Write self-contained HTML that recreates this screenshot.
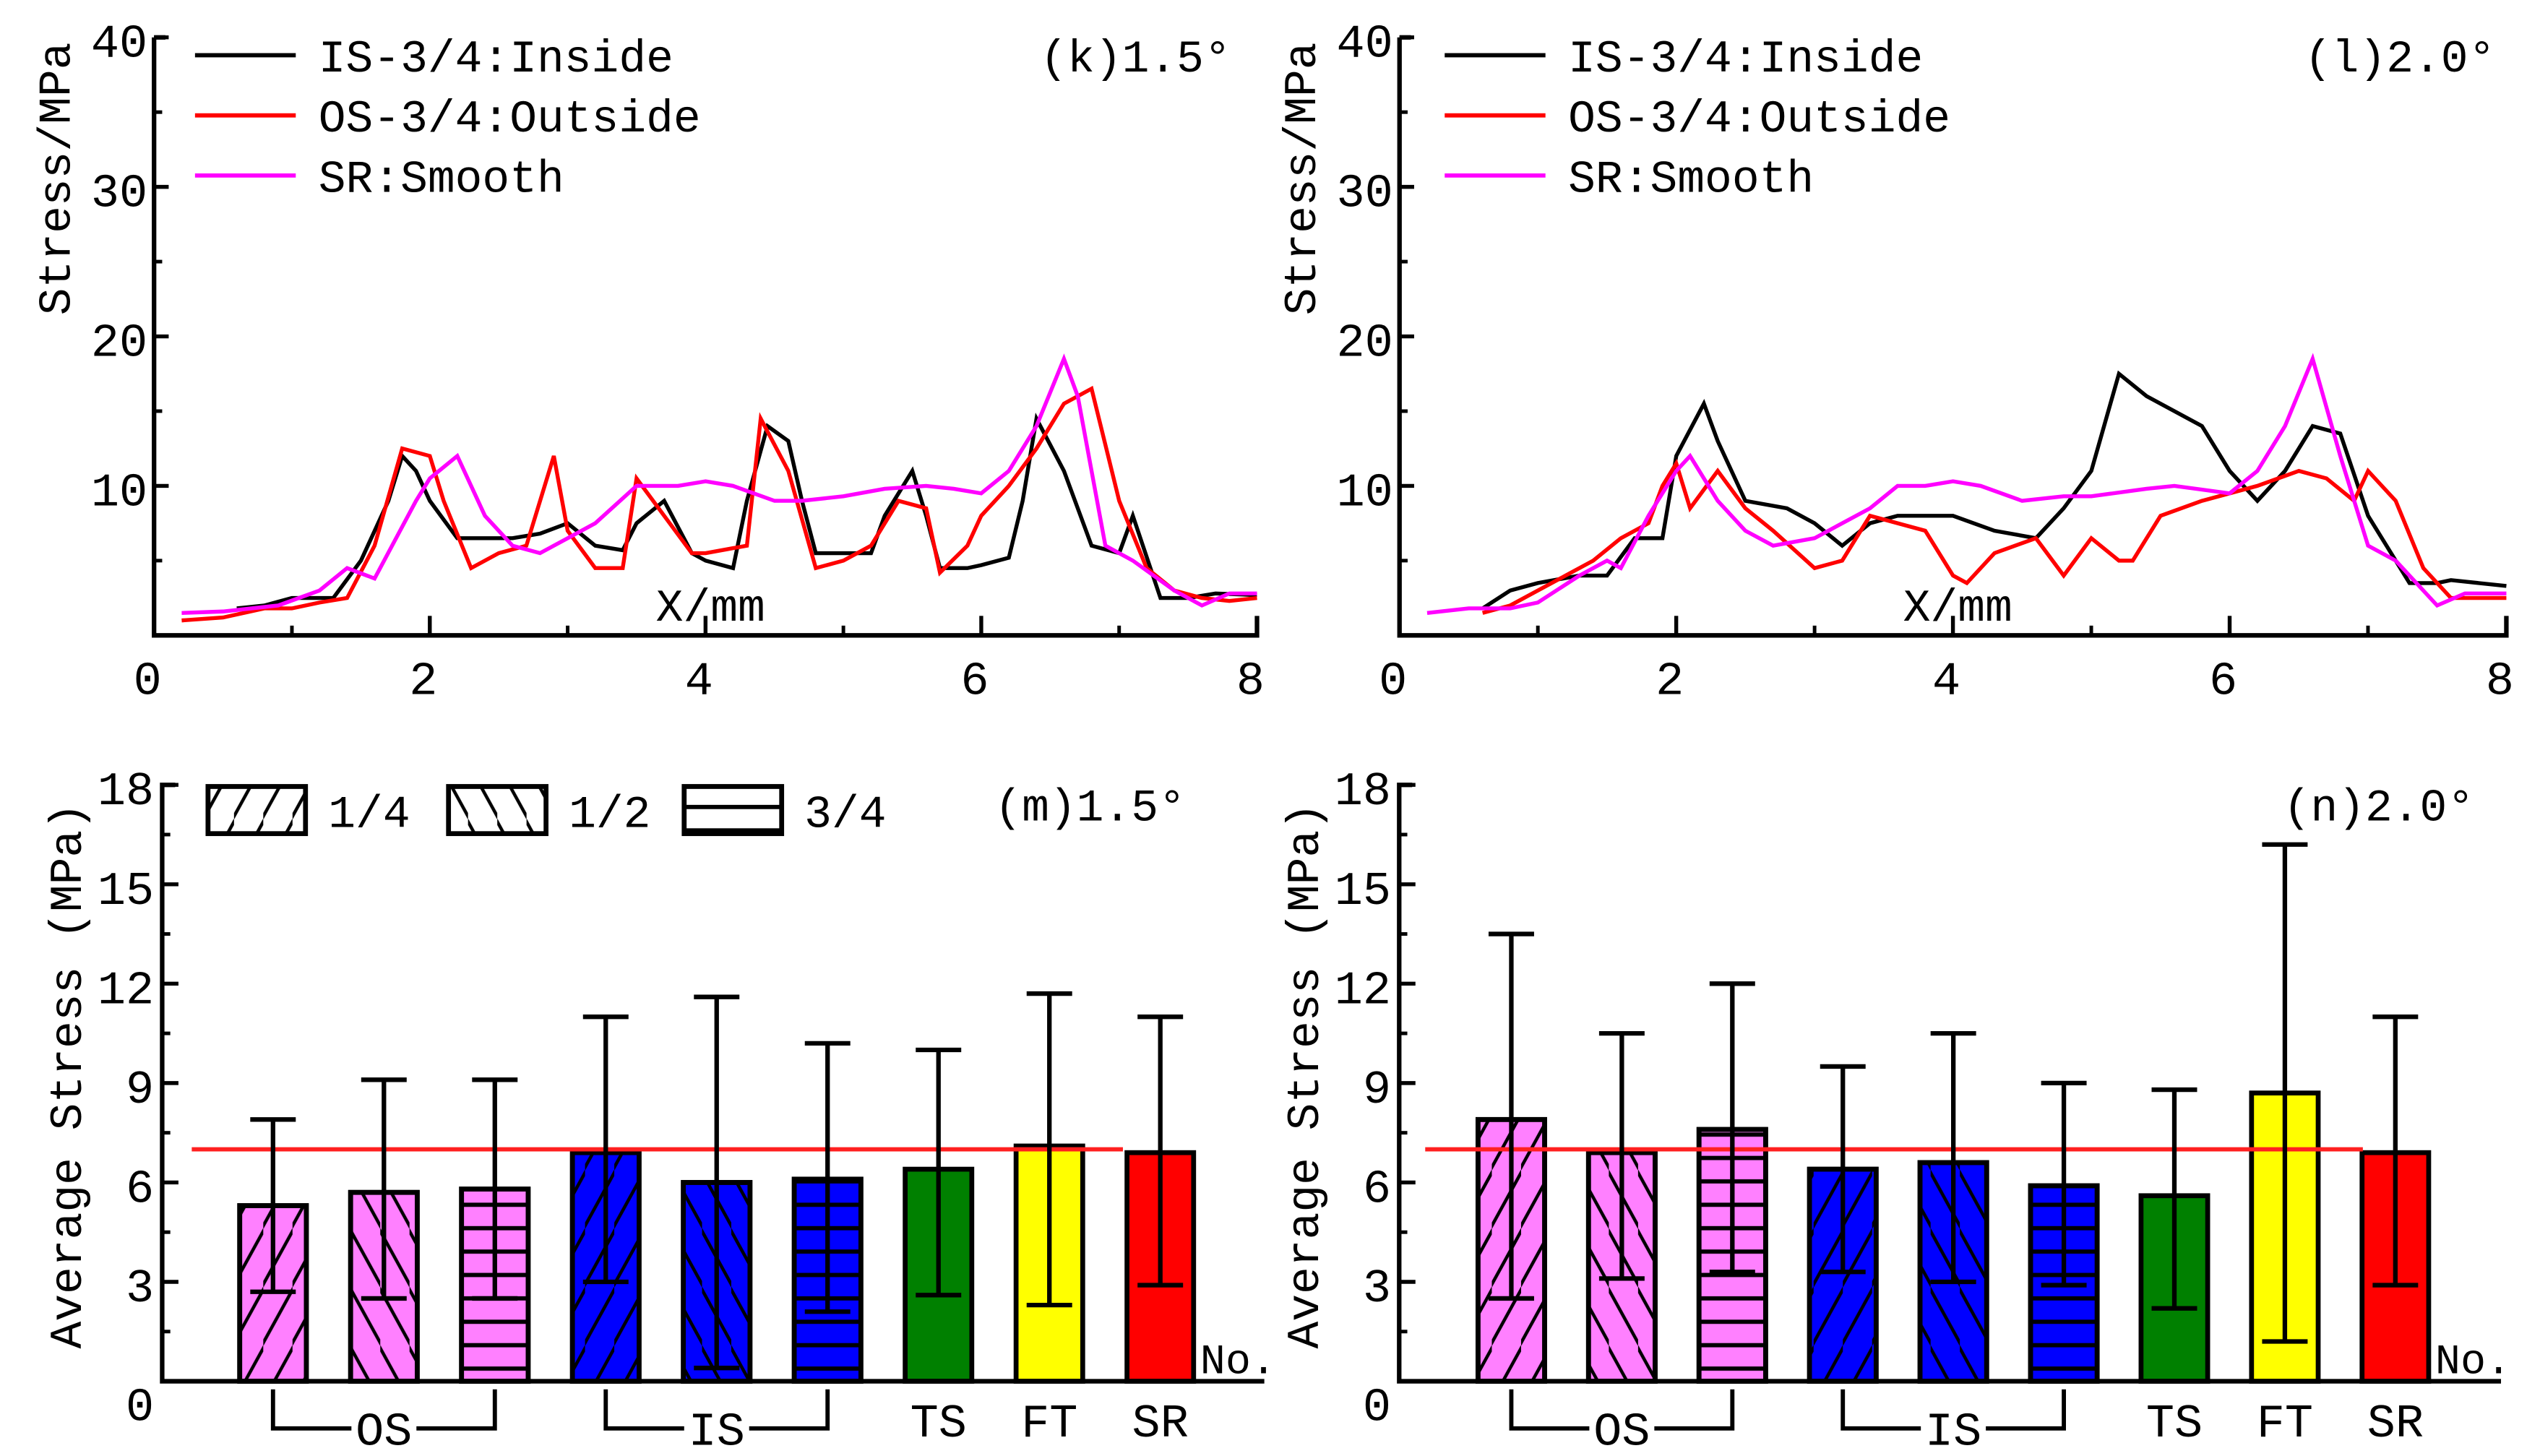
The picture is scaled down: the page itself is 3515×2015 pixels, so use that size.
<!DOCTYPE html>
<html><head><meta charset="utf-8"><style>
html,body{margin:0;padding:0;background:#fff;}
svg{display:block;}
text{font-family:"Liberation Mono","DejaVu Sans Mono",monospace;fill:#000;}
</style></head><body>
<svg id="fig" xmlns="http://www.w3.org/2000/svg" width="3515" height="2015" viewBox="0 0 1563 896" preserveAspectRatio="none">
<defs>
<pattern id="p14" patternUnits="userSpaceOnUse" width="18" height="36"><line x1="-2" y1="38" x2="20" y2="-2" stroke="#000" stroke-width="2"/></pattern>
<pattern id="p12" patternUnits="userSpaceOnUse" width="18" height="36"><line x1="-2" y1="-2" x2="20" y2="38" stroke="#000" stroke-width="2"/></pattern>
<pattern id="p34" patternUnits="userSpaceOnUse" width="20" height="14.4"><line x1="0" y1="7" x2="20" y2="7" stroke="#000" stroke-width="2.6"/></pattern>
</defs>
<g id="root"></g>
</svg>
<script>
// ---------- line chart data (k) 1.5° ----------
const kInsideX=[0.6,0.8,1.0,1.2,1.3,1.5,1.7,1.8,1.9,2.0,2.2,2.4,2.6,2.8,3.0,3.2,3.4,3.5,3.7,3.9,4.0,4.2,4.3,4.45,4.6,4.7,4.8,5.0,5.2,5.3,5.5,5.6,5.7,5.9,6.0,6.2,6.3,6.4,6.6,6.8,7.0,7.1,7.3,7.5,7.7,8.0];
const kInsideY=[1.8,2.0,2.5,2.5,2.5,5.0,9.0,12.0,11.0,9.0,6.5,6.5,6.5,6.8,7.5,6.0,5.7,7.5,9.0,5.5,5.0,4.5,9.0,14.0,13.0,9.0,5.5,5.5,5.5,8.0,11.0,8.0,4.5,4.5,4.7,5.2,9.0,14.5,11.0,6.0,5.5,8.0,2.5,2.5,2.8,2.7];
const kOutsideX=[0.2,0.5,0.8,1.0,1.2,1.4,1.6,1.8,2.0,2.1,2.3,2.5,2.7,2.9,3.0,3.2,3.4,3.5,3.7,3.9,4.0,4.3,4.4,4.6,4.8,5.0,5.2,5.4,5.6,5.7,5.9,6.0,6.2,6.4,6.6,6.8,7.0,7.2,7.4,7.6,7.8,8.0];
const kOutsideY=[1.0,1.2,1.8,1.8,2.2,2.5,6.0,12.5,12.0,9.0,4.5,5.5,6.0,12.0,7.0,4.5,4.5,10.5,8.0,5.5,5.5,6.0,14.5,11.0,4.5,5.0,6.0,9.0,8.5,4.2,6.0,8.0,10.0,12.5,15.5,16.5,9.0,4.5,3.0,2.5,2.3,2.5];
const kSmoothX=[0.2,0.5,0.9,1.2,1.4,1.6,1.9,2.0,2.2,2.4,2.6,2.8,3.0,3.2,3.5,3.8,4.0,4.2,4.5,4.7,5.0,5.3,5.6,5.8,6.0,6.2,6.4,6.6,6.7,6.9,7.1,7.4,7.6,7.8,8.0];
const kSmoothY=[1.5,1.6,2.0,3.0,4.5,3.8,9.0,10.5,12.0,8.0,6.0,5.5,6.5,7.5,10.0,10.0,10.3,10.0,9.0,9.0,9.3,9.8,10.0,9.8,9.5,11.0,14.0,18.5,16.0,6.0,5.0,3.0,2.0,2.8,2.8];
// ---------- line chart data (l) 2.0° ----------
const lInsideX=[0.6,0.8,1.0,1.3,1.5,1.7,1.9,2.0,2.2,2.3,2.5,2.8,3.0,3.2,3.4,3.6,4.0,4.3,4.6,4.8,5.0,5.2,5.4,5.6,5.8,6.0,6.2,6.4,6.6,6.8,7.0,7.3,7.5,7.6,8.0];
const lInsideY=[1.8,3.0,3.5,4.0,4.0,6.5,6.5,12.0,15.5,13.0,9.0,8.5,7.5,6.0,7.5,8.0,8.0,7.0,6.5,8.5,11.0,17.5,16.0,15.0,14.0,11.0,9.0,11.0,14.0,13.5,8.0,3.5,3.5,3.7,3.3];
const lOutsideX=[0.6,0.8,1.0,1.2,1.4,1.6,1.8,1.9,2.0,2.1,2.3,2.5,2.7,3.0,3.2,3.4,3.6,3.8,4.0,4.1,4.3,4.6,4.8,5.0,5.2,5.3,5.5,5.8,6.2,6.5,6.7,6.9,7.0,7.2,7.4,7.6,8.0];
const lOutsideY=[1.5,2.0,3.0,4.0,5.0,6.5,7.5,10.0,11.5,8.5,11.0,8.5,7.0,4.5,5.0,8.0,7.5,7.0,4.0,3.5,5.5,6.5,4.0,6.5,5.0,5.0,8.0,9.0,10.0,11.0,10.5,9.0,11.0,9.0,4.5,2.5,2.5];
const lSmoothX=[0.2,0.5,0.8,1.0,1.3,1.5,1.6,1.8,2.0,2.1,2.3,2.5,2.7,3.0,3.4,3.6,3.8,4.0,4.2,4.5,4.8,5.0,5.4,5.6,6.0,6.2,6.4,6.6,6.8,7.0,7.2,7.5,7.7,8.0];
const lSmoothY=[1.5,1.8,1.8,2.2,4.0,5.0,4.5,8.0,11.0,12.0,9.0,7.0,6.0,6.5,8.5,10.0,10.0,10.3,10.0,9.0,9.3,9.3,9.8,10.0,9.5,11.0,14.0,18.5,12.0,6.0,5.0,2.0,2.8,2.8];
const lineTicksX=[0,2,4,6,8];
const lineTicksY=[10,20,30,40];
// ---------- bar chart data ----------
const barCategories=["OS-1/4","OS-1/2","OS-3/4","IS-1/4","IS-1/2","IS-3/4","TS","FT","SR"];
const mMeans=[5.3,5.7,5.8,6.9,6.0,6.1,6.4,7.1,6.9];
const mErrLow=[2.7,2.5,2.5,3.0,0.4,2.1,2.6,2.3,2.9];
const mErrHigh=[7.9,9.1,9.1,11.0,11.6,10.2,10.0,11.7,11.0];
const nMeans=[7.9,6.9,7.6,6.4,6.6,5.9,5.6,8.7,6.9];
const nErrLow=[2.5,3.1,3.3,3.3,3.0,2.9,2.2,1.2,2.9];
const nErrHigh=[13.5,10.5,12.0,9.5,10.5,9.0,8.8,16.2,11.0];
const barTicksY=[0,3,6,9,12,15,18];
const refLine=7;

const NS="http://www.w3.org/2000/svg";
const root=document.getElementById('root');
function mk(tag,attrs,parent){const e=document.createElementNS(NS,tag);for(const k in attrs)e.setAttribute(k,attrs[k]);(parent||root).appendChild(e);return e;}
function txt(s,x,y,size,parent,anchor){const t=mk('text',{x:x,y:y,'font-size':size,'text-anchor':anchor||'start'},parent);t.textContent=s;return t;}

// ---------- line panels ----------
function linePanel(name,x0,x8,series,tag,legendX,tagX){
  const g=mk('g',{});
  
  
  const xs=v=>x0+(x8-x0)*v/8;
  const ys=v=>391-v*9.2;
  const ax=mk('path',{d:`M${x0} ${ys(40)}H${x0+7}M${x0} ${ys(40)}V${ys(0)}H${x8}V${ys(0)-12}`,fill:'none',stroke:'#000','stroke-width':2.8},g);
  
  
  for(const v of lineTicksY){mk('line',{x1:x0,y1:ys(v),x2:x0+9,y2:ys(v),stroke:'#000','stroke-width':2.4},g);
    const t=txt(String(v),x0-4,ys(v)+12,29,g,'end');
    
    }
  for(const v of [5,15,25,35])mk('line',{x1:x0,y1:ys(v),x2:x0+5,y2:ys(v),stroke:'#000','stroke-width':2.2},g);
  for(const v of lineTicksX){if(v>0&&v<8)mk('line',{x1:xs(v),y1:ys(0),x2:xs(v),y2:ys(0)-12,stroke:'#000','stroke-width':2.4},g);
    const t=txt(String(v),xs(v)-4,427,29,g,'middle');
    
    }
  for(const v of [1,3,5,7])mk('line',{x1:xs(v),y1:ys(0),x2:xs(v),y2:ys(0)-6,stroke:'#000','stroke-width':2.2},g);
  const xt=txt('X/mm',x0+(x8-x0)*0.455,382,28,g);
  
  
  const yt=txt('Stress/MPa',0,0,28,g,'middle');
  yt.setAttribute('transform',`translate(${x0-52},110) rotate(-90)`);
  
  
  const labels=['IS-3/4:Inside','OS-3/4:Outside','SR:Smooth'];
  const colors=['#000','#f00','#f0f'];
  series.forEach((s,i)=>{
    const d=s[0].map((xv,j)=>(j?'L':'M')+xs(xv).toFixed(1)+' '+ys(s[1][j]).toFixed(1)).join('');
    const p=mk('path',{d:d,fill:'none',stroke:colors[i],'stroke-width':2.4,'stroke-linejoin':'miter'},g);
    
    
    const ly=34+i*37;
    const le=mk('g',{},g);
    
    
    mk('line',{x1:legendX,y1:ly,x2:legendX+62,y2:ly,stroke:colors[i],'stroke-width':2.6},le);
    txt(labels[i],legendX+76,ly+10,28,le);
  });
  const tt=txt(tag,tagX,44,28,g);
  
  
}
linePanel('chart-k',94.8,773.5,[[kInsideX,kInsideY],[kOutsideX,kOutsideY],[kSmoothX,kSmoothY]],'(k)1.5°',120,640);
linePanel('chart-l',861.2,1542.3,[[lInsideX,lInsideY],[lOutsideX,lOutsideY],[lSmoothX,lSmoothY]],'(l)2.0°',889,1418);

// ---------- bar panels ----------
const barFills=['#ff80ff','#ff80ff','#ff80ff','#0000ff','#0000ff','#0000ff','#008000','#ffff00','#ff0000'];
const barPatterns=['p14','p12','p34','p14','p12','p34','','',''];
function barPanel(name,x0,xEnd,c0,step,means,lo,hi,tag,tagX,refX1,refX2,legend){
  const g=mk('g',{});
  
  
  const ys=v=>850-v*(850-483)/18;
  const bw=41;
  const cx=i=>c0+i*step;
  means.forEach((m,i)=>{
    const b=mk('rect',{x:cx(i)-bw/2,y:ys(m),width:bw,height:ys(0)-ys(m),fill:barFills[i],stroke:'#000','stroke-width':3},g);
    
    
    if(barPatterns[i]){mk('rect',{x:cx(i)-bw/2,y:ys(m),width:bw,height:ys(0)-ys(m),fill:'url(#'+barPatterns[i]+')',stroke:'#000','stroke-width':3},g);}
  });
  const rl=mk('line',{x1:refX1,y1:ys(refLine),x2:refX2,y2:ys(refLine),stroke:'#ff2020','stroke-width':2.6},g);
  
  
  means.forEach((m,i)=>{
    const e=mk('path',{d:`M${cx(i)} ${ys(hi[i])}V${ys(lo[i])}M${cx(i)-14} ${ys(hi[i])}h28M${cx(i)-14} ${ys(lo[i])}h28`,fill:'none',stroke:'#000','stroke-width':2.8},g);
    
    
  });
  const ax=mk('path',{d:`M${x0+8} ${ys(18)}H${x0}V${ys(0)}H${xEnd}`,fill:'none',stroke:'#000','stroke-width':2.8},g);
  
  
  for(const v of barTicksY){
    if(v>0)mk('line',{x1:x0,y1:ys(v),x2:x0+10,y2:ys(v),stroke:'#000','stroke-width':2.4},g);
    const t=txt(String(v),x0-5,v===0?ys(v)+24:ys(v)+12,29,g,'end');
    
    
  }
  for(const v of [1.5,4.5,7.5,10.5,13.5,16.5])mk('line',{x1:x0,y1:ys(v),x2:x0+5,y2:ys(v),stroke:'#000','stroke-width':2.2},g);
  const yt=txt('Average Stress (MPa)',0,0,28,g,'middle');
  yt.setAttribute('transform',`translate(${x0-50},662) rotate(-90)`);
  
  
  const no=txt('No.',cx(8)+bw/2+4,845,26,g);
  
  
  [[0,2,'OS'],[3,5,'IS']].forEach(([a,b,l])=>{
    const mid=(cx(a)+cx(b))/2;
    const br=mk('path',{d:`M${cx(a)} 855V879H${mid-20}M${mid+20} 879H${cx(b)}V855`,fill:'none',stroke:'#000','stroke-width':2.6},g);
    
    
    const t=txt(l,mid,889,29,g,'middle');
    
    
  });
  [6,7,8].forEach(i=>{const t=txt(barCategories[i],cx(i),884,29,g,'middle');
    
    });
  const tt=txt(tag,tagX,505,28,g);
  
  
  if(legend){
    [['p14','1/4',128],['p12','1/2',276],['p34','3/4',421]].forEach(([p,l,x])=>{
      const le=mk('g',{},g);
      
      
      mk('rect',{x:x,y:484,width:60,height:29,fill:'#fff',stroke:'#000','stroke-width':3},le);
      mk('rect',{x:x,y:484,width:60,height:29,fill:'url(#'+p+')'},le);
      txt(l,x+74,509,28,le);
    });
  }
}
barPanel('chart-m',99.8,778,168,68.25,mMeans,mErrLow,mErrHigh,'(m)1.5°',612,118,691,true);
barPanel('chart-n',861,1539,930,68,nMeans,nErrLow,nErrHigh,'(n)2.0°',1405,877,1454,false);
</script>
</body></html>
